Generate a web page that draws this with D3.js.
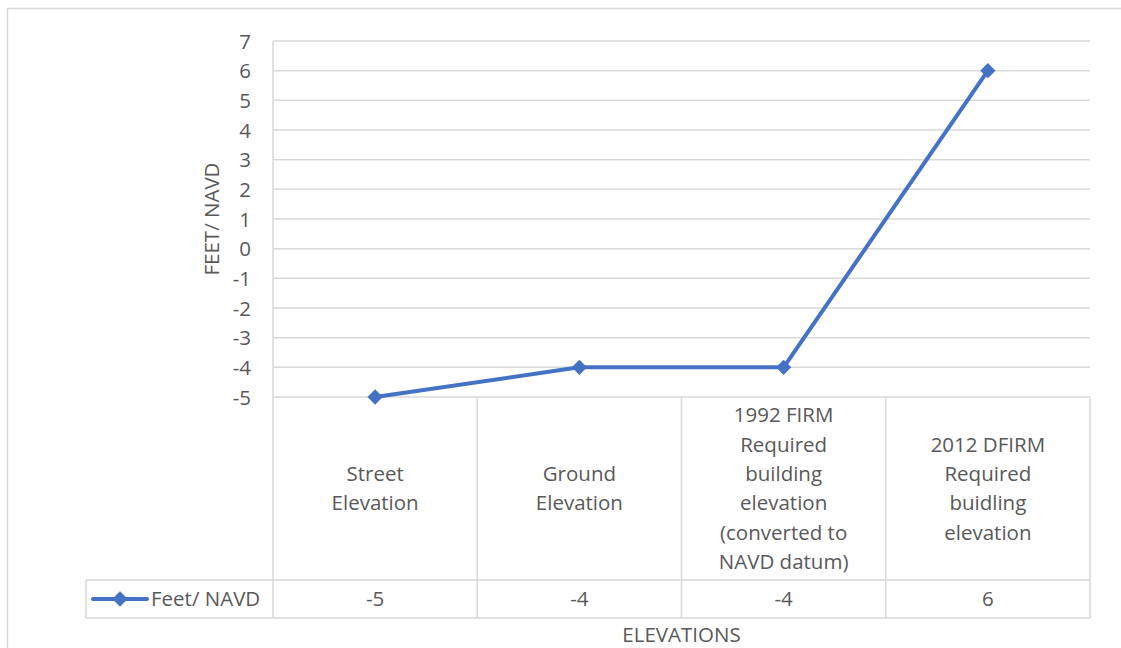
<!DOCTYPE html>
<html>
<head>
<meta charset="utf-8">
<script src="https://cdn.jsdelivr.net/npm/d3@7"></script>
<style>
  html, body { margin: 0; padding: 0; background: #fff; }
  svg { display: block; }
  text { font-family: "Open Sans", sans-serif; fill: #595959; }
</style>
</head>
<body>
<svg id="chart" width="1121" height="648"></svg>
<script>
// ---- data ----
const categories = [
  "Street Elevation",
  "Ground Elevation",
  "1992 FIRM Required building elevation (converted to NAVD datum)",
  "2012 DFIRM Required buidling elevation"
];
const categoryLines = [
  ["Street", "Elevation"],
  ["Ground", "Elevation"],
  ["1992 FIRM", "Required", "building", "elevation", "(converted to", "NAVD datum)"],
  ["2012 DFIRM", "Required", "buidling", "elevation"]
];
const seriesName = "Feet/ NAVD";
const values = [-5, -4, -4, 6];
const yTicks = [7, 6, 5, 4, 3, 2, 1, 0, -1, -2, -3, -4, -5];
const yTitle = "FEET/ NAVD";
const xTitle = "ELEVATIONS";

// ---- layout ----
const svg = d3.select("#chart");
const plot = { left: 273, right: 1090, top: 41, bottom: 397 };
const catRowBottom = 580, valRowBottom = 618, legendLeft = 86;
const gridColor = "#d9d9d9";
const lineColor = "#4472C4";
const fs = 20.5, lh = 29.4;

// outer border
svg.append("rect").attr("x", 7.5).attr("y", 8.5).attr("width", 1140).attr("height", 680)
  .attr("fill", "none").attr("stroke", gridColor).attr("stroke-width", 1.5);

const y = d3.scaleLinear().domain([-5, 7]).range([plot.bottom, plot.top]);
const x = d3.scaleBand().domain(categories).range([plot.left, plot.right]).padding(0);
const cx = d => x(d) + x.bandwidth() / 2;

// gridlines
svg.append("g").selectAll("line").data(yTicks).join("line")
  .attr("x1", plot.left).attr("x2", plot.right)
  .attr("y1", d => y(d)).attr("y2", d => y(d))
  .attr("stroke", gridColor).attr("stroke-width", 1.5);

// y axis tick labels
const yAxis = d3.axisLeft(y).tickValues(yTicks).tickSize(0).tickPadding(0)
  .tickFormat(d => d < 0 ? "-" + Math.abs(d) : String(d));
const yg = svg.append("g").attr("transform", `translate(${plot.left - 22},0)`).call(yAxis);
yg.select(".domain").remove();
yg.selectAll("text").attr("font-size", fs).attr("font-family", "'Open Sans', sans-serif")
  .attr("fill", "#595959").attr("dy", "0.35em");

// table lines
const tbl = svg.append("g").attr("stroke", gridColor).attr("stroke-width", 1.5);
tbl.append("line").attr("x1", plot.left).attr("x2", plot.left).attr("y1", plot.top).attr("y2", valRowBottom);
categories.forEach(c => {
  tbl.append("line").attr("x1", x(c) + x.bandwidth()).attr("x2", x(c) + x.bandwidth())
    .attr("y1", plot.bottom).attr("y2", valRowBottom);
});
tbl.append("line").attr("x1", legendLeft).attr("x2", plot.right).attr("y1", catRowBottom).attr("y2", catRowBottom);
tbl.append("line").attr("x1", legendLeft).attr("x2", plot.right).attr("y1", valRowBottom).attr("y2", valRowBottom);
tbl.append("line").attr("x1", legendLeft).attr("x2", legendLeft).attr("y1", catRowBottom).attr("y2", valRowBottom);

// category labels
const catCenter = (plot.bottom + catRowBottom) / 2;
categories.forEach((c, i) => {
  const lines = categoryLines[i];
  const t = svg.append("text").attr("text-anchor", "middle").attr("font-size", fs);
  lines.forEach((l, j) => {
    t.append("tspan").attr("x", cx(c))
      .attr("y", catCenter + (j - (lines.length - 1) / 2) * lh)
      .attr("dy", "0.35em").text(l);
  });
});

// value row
categories.forEach((c, i) => {
  svg.append("text").attr("x", cx(c)).attr("y", (catRowBottom + valRowBottom) / 2)
    .attr("dy", "0.35em").attr("text-anchor", "middle").attr("font-size", fs)
    .text(values[i] < 0 ? "-" + Math.abs(values[i]) : values[i]);
});

// legend key
const ly = (catRowBottom + valRowBottom) / 2;
svg.append("line").attr("x1", 93).attr("x2", 147).attr("y1", ly).attr("y2", ly)
  .attr("stroke", lineColor).attr("stroke-width", 4).attr("stroke-linecap", "round");
const diamond = d3.symbol().type(d3.symbolDiamond2).size(150);
svg.append("path").attr("d", diamond).attr("transform", `translate(120,${ly})`).attr("fill", lineColor);
svg.append("text").attr("x", 151).attr("y", ly).attr("dy", "0.35em").attr("font-size", fs).text(seriesName);

// series line
const lineGen = d3.line().x((d, i) => cx(categories[i])).y(d => y(d));
svg.append("path").datum(values).attr("d", lineGen).attr("fill", "none")
  .attr("stroke", lineColor).attr("stroke-width", 4).attr("stroke-linejoin", "round").attr("stroke-linecap", "round");
svg.append("g").selectAll("path").data(values).join("path")
  .attr("d", diamond).attr("fill", lineColor)
  .attr("transform", (d, i) => `translate(${cx(categories[i])},${y(d)})`);

// axis titles
svg.append("text").attr("transform", `translate(212,${(plot.top + plot.bottom) / 2}) rotate(-90)`)
  .attr("text-anchor", "middle").attr("dy", "0.35em").attr("font-size", fs).text(yTitle);
svg.append("text").attr("x", (plot.left + plot.right) / 2).attr("y", 635).attr("dy", "0.35em")
  .attr("text-anchor", "middle").attr("font-size", fs).text(xTitle);
</script>
</body>
</html>
